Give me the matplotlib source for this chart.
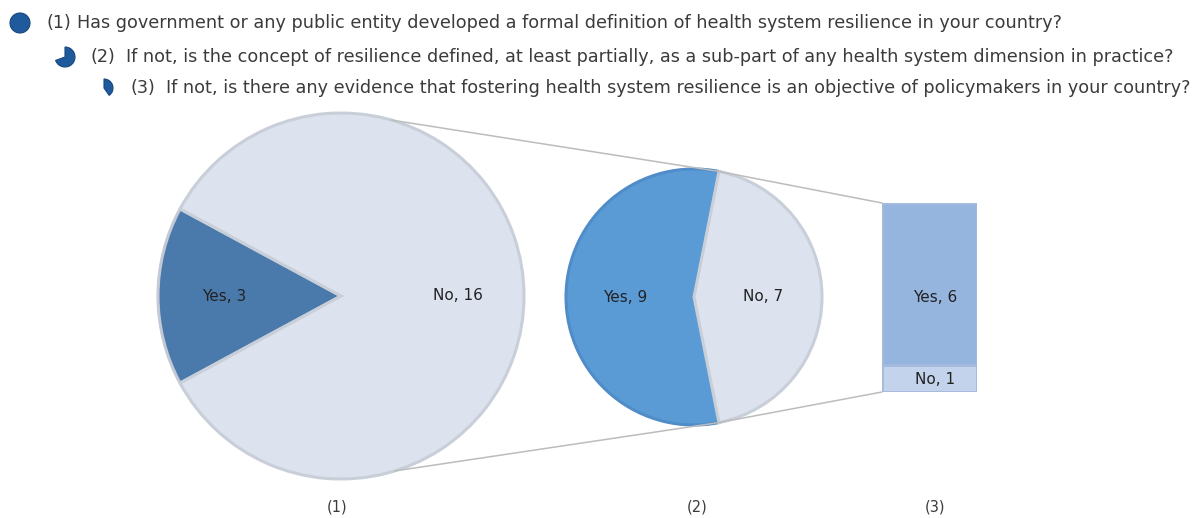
import numpy as np
import matplotlib
matplotlib.use("Agg")
import matplotlib.pyplot as plt
from matplotlib.patches import Wedge, Circle, ConnectionPatch

W, H = 1194, 518

# data
q1_labels = ["Yes", "No"]
q1_values = [3, 16]
q2_labels = ["Yes", "No"]
q2_values = [9, 7]
q3_labels = ["No", "Yes"]
q3_values = [1, 6]

questions = [
    "Has government or any public entity developed a formal definition of health system resilience in your country?",
    "If not, is the concept of resilience defined, at least partially, as a sub-part of any health system dimension in practice?",
    "If not, is there any evidence that fostering health system resilience is an objective of policymakers in your country?",
]
panel_names = ["(1)", "(2)", "(3)"]

text_color = "#3b3b3b"
light = "#dde3ee"
light_edge = "#c8cfd9"
icon_color = "#1f5b9c"

fig = plt.figure(figsize=(W / 100, H / 100), dpi=100)


def px_axes(x0, y0, x1, y1):
    # axes box given in pixels from the top-left corner
    return fig.add_axes([x0 / W, (H - y1) / H, (x1 - x0) / W, (y1 - y0) / H])


# background axes for the question header
bg = fig.add_axes([0, 0, 1, 1])
bg.set_xlim(0, W)
bg.set_ylim(0, H)
bg.axis("off")

fs = 12.7
rows_y = [H - 23, H - 57, H - 88]
num_x = [47, 90, 130]
txt_x = [77, 126, 166]
for i in range(3):
    bg.text(num_x[i], rows_y[i], panel_names[i], fontsize=fs, color=text_color,
            va="center", ha="left")
    bg.text(txt_x[i], rows_y[i], questions[i], fontsize=fs, color=text_color,
            va="center", ha="left")

bg.add_patch(Circle((20, rows_y[0]), 10, color=icon_color, ec="#17467a", lw=0.8))
bg.add_patch(Wedge((65, rows_y[1]), 10, -160, 90, color=icon_color, ec="#17467a", lw=0.8))
bg.add_patch(Wedge((104, rows_y[2]), 9, -55, 90, color=icon_color, ec="#17467a", lw=0.8))

# pie (1)
ax1 = px_axes(158, 113, 524, 479)
start1 = 180 - q1_values[0] / sum(q1_values) * 180
w1, t1 = ax1.pie(q1_values, labels=[f"{l}, {v}" for l, v in zip(q1_labels, q1_values)],
                 startangle=start1, colors=["#4a7aab", light], labeldistance=0.64,
                 wedgeprops=dict(edgecolor=light_edge, linewidth=2.2),
                 textprops=dict(fontsize=11, color="#222222"))
w1[0].set_edgecolor("#c3cad5")
for t in t1:
    t.set_ha("center")
    t.set_va("center")
ax1.set_xlim(-1, 1)
ax1.set_ylim(-1, 1)
ax1.axis("off")

# pie (2)
ax2 = px_axes(566, 169, 822, 425)
start2 = 180 - q2_values[0] / sum(q2_values) * 180
w2, t2 = ax2.pie(q2_values, labels=[f"{l}, {v}" for l, v in zip(q2_labels, q2_values)],
                 startangle=start2, colors=["#5b9bd5", light], labeldistance=0.54,
                 wedgeprops=dict(edgecolor=light_edge, linewidth=2.2),
                 textprops=dict(fontsize=11, color="#222222"))
w2[0].set_edgecolor("#4f8cc8")
w2[0].set_zorder(1)
w2[1].set_zorder(2)
for t in t2:
    t.set_ha("center")
    t.set_va("center")
ax2.set_xlim(-1, 1)
ax2.set_ylim(-1, 1)
ax2.axis("off")

# bar (3)
ax3 = px_axes(882, 203, 977, 392)
bar_colors = ["#c3d3ec", "#95b4de"]
bottom = 0
for lab, val, col in zip(q3_labels, q3_values, bar_colors):
    ax3.bar(0, val, width=1, bottom=bottom, color=col, edgecolor="#a5bbdd", linewidth=2)
    ax3.text(0.06, bottom + val / 2 - (0.5 if lab == "Yes" else 0.05), f"{lab}, {val}",
             ha="center", va="center", fontsize=11, color="#222222")
    bottom += val
ax3.set_xlim(-0.5, 0.5)
ax3.set_ylim(0, sum(q3_values))
ax3.axis("off")

# connector lines
line_kw = dict(color="#bcbcbc", linewidth=1.1)
a_up, a_dn = np.deg2rad(74), np.deg2rad(-73)
b_up = np.deg2rad(start2)
b_dn = np.deg2rad(start2 + q2_values[0] / sum(q2_values) * 360)
fig.add_artist(ConnectionPatch((np.cos(a_up), np.sin(a_up)), (np.cos(b_up), np.sin(b_up)),
                               "data", "data", axesA=ax1, axesB=ax2, **line_kw))
fig.add_artist(ConnectionPatch((np.cos(a_dn), np.sin(a_dn)), (np.cos(b_dn), np.sin(b_dn)),
                               "data", "data", axesA=ax1, axesB=ax2, **line_kw))
fig.add_artist(ConnectionPatch((np.cos(b_up), np.sin(b_up)), (-0.5, sum(q3_values)),
                               "data", "data", axesA=ax2, axesB=ax3, **line_kw))
fig.add_artist(ConnectionPatch((np.cos(b_dn), np.sin(b_dn)), (-0.5, 0),
                               "data", "data", axesA=ax2, axesB=ax3, **line_kw))

# panel captions
for name, xp in zip(panel_names, [337, 697, 935]):
    bg.text(xp, H - 507, name, fontsize=10.5, color=text_color, ha="center", va="center")

fig.savefig("out.png", dpi=100)
